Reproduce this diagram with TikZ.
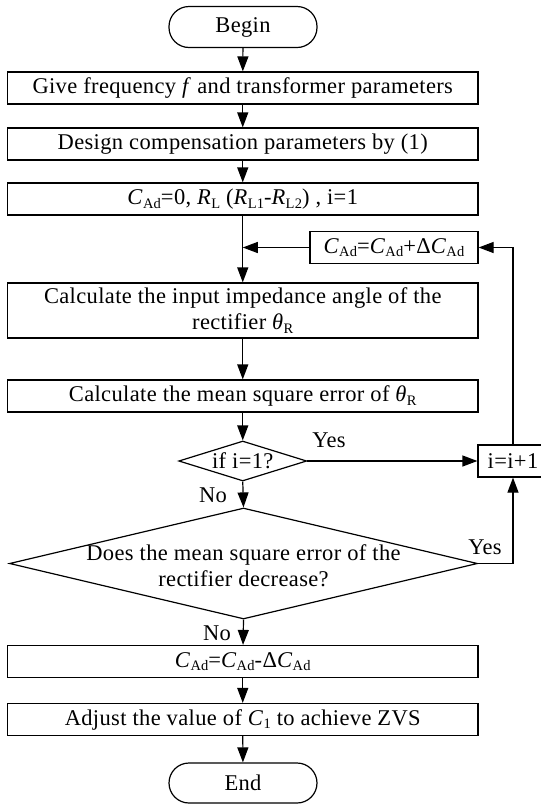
\documentclass[tikz,border=0pt]{standalone}
\usepackage{fontspec}
\setmainfont{Liberation Serif}[LetterSpace=1.6]
\usetikzlibrary{arrows.meta,shapes.geometric}
\newcommand\sbx[1]{\raisebox{-0.35ex}{\fontsize{14.5}{14.5}\selectfont #1}}
\newcommand\vC{\textit{C}}
\newcommand\vR{\textit{R}}
\begin{document}
\begin{tikzpicture}[x=1pt,y=-1pt,
  font=\fontsize{22.5}{26}\selectfont,
  box/.style={draw, line width=1.2pt, minimum width=470.5pt, minimum height=32pt, inner sep=0pt, align=center},
  term/.style={draw, line width=1.2pt, rounded corners=20pt, minimum width=148pt, minimum height=41pt, inner sep=0pt},
  dia/.style={draw, diamond, line width=1.2pt, inner sep=0pt},
  arr/.style={-{Triangle[length=15pt,width=11pt]}, line width=1.2pt},
  lbl/.style={inner sep=0pt}]
\useasboundingbox (0,0) rectangle (541,804);

\node[term] (begin) at (243,27) {Begin};
\node[box] (b1) at (242.75,88) {Give frequency \textit{f} and transformer parameters};
\node[box] (b2) at (242.75,144) {Design compensation parameters by (1)};
\node[box] (b3) at (242.75,199) {\vC\sbx{Ad}=0, \vR\sbx{L} (\vR\sbx{L1}-\vR\sbx{L2}) , i=1};
\node[box, minimum width=168pt] (cadp) at (394,247.5) {\vC\sbx{Ad}=\vC\sbx{Ad}+Δ\vC\sbx{Ad}};
\node[box, minimum height=55pt] (b4) at (242.75,310.5) {Calculate the input impedance angle of the\\rectifier \textit{θ}\sbx{R}};
\node[box] (b5) at (242.75,396) {Calculate the mean square error of \textit{θ}\sbx{R}};
\node[dia, minimum width=128pt, minimum height=40pt] (d1) at (242.75,461) {};
\node[lbl] at (d1) {if i=1?};
\node[box, minimum width=70pt] (ib) at (513,461) {i=i+1};
\node[dia, minimum width=468pt, minimum height=111pt] (d2) at (243.5,563.5) {};
\node[lbl, align=center] at (243.5,566) {Does the mean square error of the\\rectifier decrease?};
\node[box] (b6) at (242.75,661.5) {\vC\sbx{Ad}=\vC\sbx{Ad}-Δ\vC\sbx{Ad}};
\node[box] (b7) at (242.75,719.5) {Adjust the value of \vC\sbx{1} to achieve ZVS};
\node[term, minimum height=40pt] (end) at (243,783) {End};

\node[lbl] (y1) at (329,440) {Yes};
\node[lbl] (n1) at (213,495) {No};
\node[lbl] (y2) at (485,547) {Yes};
\node[lbl] (n2) at (217,633) {No};

\coordinate (m) at (b3.south |- cadp.west);
\draw[arr] (begin) -- (b1);
\draw[arr] (b1) -- (b2);
\draw[arr] (b2) -- (b3);
\draw[arr] (b3) -- (b4);
\draw[arr] (cadp.west) -- (m);
\draw[arr] (b4) -- (b5);
\draw[arr] (b5) -- (d1);
\draw[arr] (d1.east) -- (ib.west);
\draw[arr] (d1.south) -- (d2.north);
\draw[arr] (d2.east) -| (ib.south);
\draw[arr] (ib.north) |- (cadp.east);
\draw[arr] (d2.south) -- (b6);
\draw[arr] (b6) -- (b7);
\draw[arr] (b7) -- (end);
\end{tikzpicture}
\end{document}
